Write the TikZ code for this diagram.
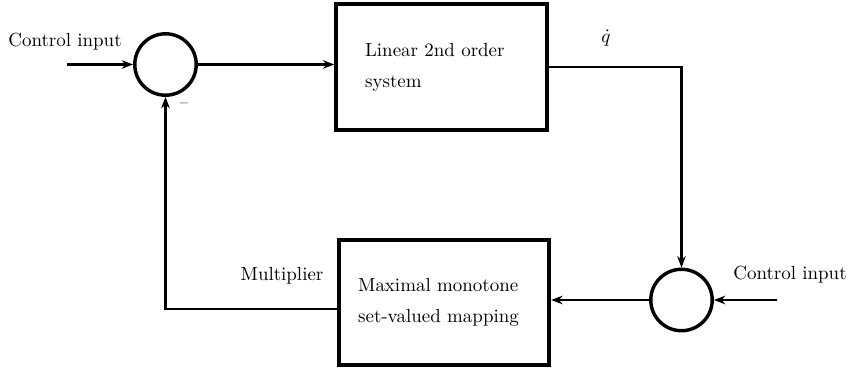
\documentclass[tikz,border=0pt]{standalone}
\usetikzlibrary{arrows.meta}
\tikzset{
  block/.style={draw, line width=2.1pt, minimum width=111pt, minimum height=66pt, align=left, inner sep=0pt},
  sumnode/.style={draw, circle, line width=1.8pt, minimum size=32.4pt, inner sep=0pt},
  conn/.style={line width=1.3pt, -{Stealth[length=6pt,width=4.5pt]}},
}
\begin{document}
\begin{tikzpicture}[x=0.5275pt,y=-0.5275pt]
\useasboundingbox (0,0) rectangle (850,373);
\node[sumnode] (sum1) at (165.5,64.5) {};
\node[block, text width=80.6pt] (sys) at (441.5,67) {Linear 2nd order\\[4.3pt]system};
\node[sumnode] (sum2) at (681.5,300) {};
\node[block, text width=90.6pt] (map) at (444,302.5) {Maximal monotone\\[4.3pt]set-valued mapping};
\coordinate (in1) at (67,64.5);
\coordinate (in2) at (777,300);
\node (in1label) at (65,42) {Control input};
\node (in2label) at (790,275) {Control input};
\node (qdot) at (606,38) {$\dot q$};
\node (mult) at (282,276) {Multiplier};
\node[font=\footnotesize] (minus) at (184,105) {\textendash};
\draw[conn] (in1) -- (sum1);
\draw[conn] (sum1) -- (sum1 -| sys.west);
\draw[conn] (sys.east) -| (sum2.north);
\draw[conn] (in2) -- (sum2);
\draw[conn] (sum2) -- (sum2 -| map.east);
\draw[conn] ([yshift=-3.4pt]map.west) -| (sum1.south);
\end{tikzpicture}
\end{document}
